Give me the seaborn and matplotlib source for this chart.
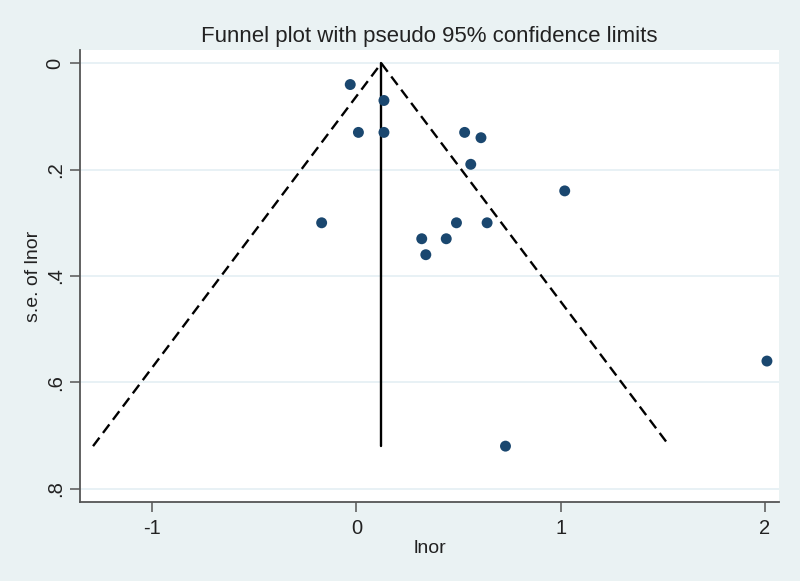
import numpy as np
import pandas as pd
import matplotlib
matplotlib.use("Agg")
import matplotlib.pyplot as plt
import seaborn as sns

# study estimates
lnor = [-0.03, 0.135, 0.01, 0.135, -0.17, 0.53, 0.61, 0.56, 1.02,
        0.49, 0.64, 0.32, 0.44, 0.34, 2.01, 0.73]
se_lnor = [0.04, 0.07, 0.13, 0.13, 0.30, 0.13, 0.14, 0.19, 0.24,
           0.30, 0.30, 0.33, 0.33, 0.36, 0.56, 0.72]

# pooled estimate and pseudo 95% limits
pooled = 0.122
se_max = 0.72
x_ticks = [-1, 0, 1, 2]
y_ticks = [0, 0.2, 0.4, 0.6, 0.8]
y_tick_labels = ["0", ".2", ".4", ".6", ".8"]

df = pd.DataFrame({"lnor": lnor, "se": se_lnor})
limits = pd.DataFrame({
    "x": [pooled - 1.96 * se_max, pooled, pooled + 1.96 * se_max],
    "y": [se_max, 0.0, se_max],
})
center = pd.DataFrame({"x": [pooled, pooled], "y": [0.0, se_max]})

sns.set_theme(style="white")
plt.rcParams["font.family"] = ["Liberation Sans", "DejaVu Sans"]

bg = "#eaf2f3"
fig = plt.figure(figsize=(8, 5.81), dpi=100, facecolor=bg)
ax = fig.add_axes([0.1, 0.136, 0.874, 0.778])
ax.set_facecolor("white")

for yt in y_ticks:
    ax.axhline(yt, color="#e4eff3", lw=1.2, zorder=0)

sns.lineplot(data=limits, x="x", y="y", ax=ax, color="black", lw=1.7,
             linestyle=(0, (4.5, 2.5)), sort=False, estimator=None)
sns.lineplot(data=center, x="x", y="y", ax=ax, color="black", lw=1.7,
             sort=False, estimator=None)
sns.scatterplot(data=df, x="lnor", y="se", ax=ax, color="#1a476f", s=62,
                edgecolor="none", zorder=3)

ax.set_xlim(-1.353, 2.07)
ax.set_ylim(0.825, -0.025)
ax.set_xticks(x_ticks)
ax.set_xticklabels([str(v) for v in x_ticks])
ax.set_yticks(y_ticks)
ax.set_yticklabels(y_tick_labels, rotation=90, va="center")

for side in ["top", "right"]:
    ax.spines[side].set_visible(False)
for side in ["left", "bottom"]:
    ax.spines[side].set_color("#555555")
    ax.spines[side].set_linewidth(1.3)
ax.tick_params(axis="both", bottom=True, left=True, direction="out",
               length=7, width=1.1, color="#555555", labelsize=14.5,
               labelcolor="#222222")
ax.tick_params(axis="x", pad=5)
ax.tick_params(axis="y", pad=4)

ax.set_xlabel("lnor", fontsize=14, color="#222222", labelpad=2)
ax.set_ylabel("s.e. of lnor", fontsize=14, color="#222222", labelpad=3)
ax.set_title("Funnel plot with pseudo 95% confidence limits", fontsize=16,
             color="#222222", pad=6)

fig.savefig("out.png", dpi=100, facecolor=bg)
